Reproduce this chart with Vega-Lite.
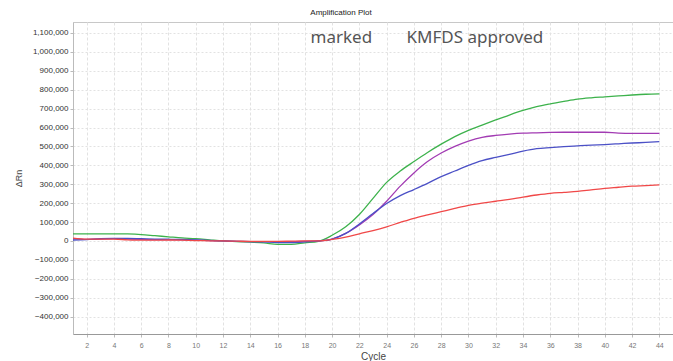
{
  "$schema": "https://vega.github.io/schema/vega-lite/v6.json",
  "width": 600,
  "height": 312,
  "autosize": {"type": "none"},
  "padding": {"left": 73, "top": 22, "right": 0, "bottom": 27},
  "background": "white",
  "config": {"view": {"stroke": "#c8c8c8", "strokeWidth": 1}},
  "title": {"text": "Amplification Plot", "fontSize": 8, "font": "Liberation Sans", "fontWeight": "normal", "color": "#222", "anchor": "middle", "dx": -32, "offset": 5},
  "encoding": {
    "x": {"field": "c", "type": "quantitative",
      "scale": {"domain": [1, 45], "nice": false, "zero": false},
      "axis": {"title": "Cycle", "values": [2,4,6,8,10,12,14,16,18,20,22,24,26,28,30,32,34,36,38,40,42,44],
        "labelOverlap": false,
        "labelFontSize": 7, "labelColor": "#777", "labelFont": "Liberation Sans", "labelPadding": 4,
        "tickSize": 3, "tickColor": "#bbb", "domainColor": "#999",
        "grid": true, "gridColor": "#e2e2e2", "gridDash": [3, 2],
        "titleFont": "Liberation Sans", "titleFontSize": 10, "titleFontWeight": "normal", "titleColor": "#444", "titlePadding": 3}},
    "y": {"field": "v", "type": "quantitative",
      "scale": {"domain": [-492000, 1158000], "nice": false, "zero": false},
      "axis": {"title": "ΔRn", "format": ",d",
        "values": [-400000,-300000,-200000,-100000,0,100000,200000,300000,400000,500000,600000,700000,800000,900000,1000000,1100000],
        "labelOverlap": false,
        "labelFontSize": 8, "labelColor": "#333", "labelFont": "Liberation Sans", "labelPadding": 2,
        "tickSize": 3, "tickColor": "#bbb", "domainColor": "#bbb",
        "grid": true, "gridColor": "#e2e2e2", "gridDash": [2, 2],
        "titleFont": "Liberation Sans", "titleFontSize": 9, "titleFontWeight": "normal", "titleColor": "#444", "titlePadding": 9}}
  },
  "layer": [
    {
      "data": {"values": [
        {"c": 1, "green": 38000, "purple": 12000, "blue": 5000, "red": 15000},
        {"c": 2, "green": 38000, "purple": 8000, "blue": 7000, "red": 10000},
        {"c": 3, "green": 38000, "purple": 10000, "blue": 12000, "red": 10000},
        {"c": 4, "green": 38000, "purple": 12000, "blue": 14000, "red": 10000},
        {"c": 5, "green": 37000, "purple": 10000, "blue": 14000, "red": 6000},
        {"c": 6, "green": 34000, "purple": 8000, "blue": 12000, "red": 4000},
        {"c": 7, "green": 28000, "purple": 7000, "blue": 10000, "red": 4000},
        {"c": 8, "green": 22000, "purple": 7000, "blue": 9000, "red": 5000},
        {"c": 9, "green": 16000, "purple": 6000, "blue": 8000, "red": 4000},
        {"c": 10, "green": 12000, "purple": 4000, "blue": 6000, "red": 2000},
        {"c": 11, "green": 6000, "purple": 2000, "blue": 3000, "red": 1000},
        {"c": 12, "green": 0, "purple": 0, "blue": 0, "red": 0},
        {"c": 13, "green": -3000, "purple": -2000, "blue": -2000, "red": -1000},
        {"c": 14, "green": -6000, "purple": -3000, "blue": -3000, "red": -2000},
        {"c": 15, "green": -10000, "purple": -3000, "blue": -5000, "red": -2000},
        {"c": 16, "green": -18000, "purple": -4000, "blue": -8000, "red": -2000},
        {"c": 17, "green": -18000, "purple": -4000, "blue": -8000, "red": -1000},
        {"c": 18, "green": -10000, "purple": -2000, "blue": -5000, "red": 0},
        {"c": 19, "green": -2000, "purple": 0, "blue": 0, "red": 0},
        {"c": 20, "green": 30000, "purple": 10000, "blue": 10000, "red": 8000},
        {"c": 21, "green": 75000, "purple": 40000, "blue": 40000, "red": 20000},
        {"c": 22, "green": 140000, "purple": 85000, "blue": 90000, "red": 38000},
        {"c": 23, "green": 225000, "purple": 140000, "blue": 145000, "red": 55000},
        {"c": 24, "green": 310000, "purple": 210000, "blue": 198000, "red": 75000},
        {"c": 25, "green": 370000, "purple": 290000, "blue": 240000, "red": 98000},
        {"c": 26, "green": 420000, "purple": 360000, "blue": 272000, "red": 120000},
        {"c": 27, "green": 468000, "purple": 420000, "blue": 305000, "red": 138000},
        {"c": 28, "green": 512000, "purple": 465000, "blue": 340000, "red": 155000},
        {"c": 29, "green": 552000, "purple": 500000, "blue": 370000, "red": 172000},
        {"c": 30, "green": 585000, "purple": 528000, "blue": 400000, "red": 188000},
        {"c": 31, "green": 613000, "purple": 548000, "blue": 425000, "red": 200000},
        {"c": 32, "green": 640000, "purple": 558000, "blue": 442000, "red": 210000},
        {"c": 33, "green": 666000, "purple": 565000, "blue": 458000, "red": 220000},
        {"c": 34, "green": 690000, "purple": 570000, "blue": 475000, "red": 232000},
        {"c": 35, "green": 710000, "purple": 572000, "blue": 488000, "red": 243000},
        {"c": 36, "green": 725000, "purple": 574000, "blue": 494000, "red": 252000},
        {"c": 37, "green": 738000, "purple": 575000, "blue": 499000, "red": 257000},
        {"c": 38, "green": 750000, "purple": 575000, "blue": 503000, "red": 262000},
        {"c": 39, "green": 757000, "purple": 575000, "blue": 507000, "red": 270000},
        {"c": 40, "green": 762000, "purple": 575000, "blue": 510000, "red": 278000},
        {"c": 41, "green": 767000, "purple": 570000, "blue": 514000, "red": 284000},
        {"c": 42, "green": 772000, "purple": 569000, "blue": 518000, "red": 290000},
        {"c": 43, "green": 776000, "purple": 569000, "blue": 521000, "red": 293000},
        {"c": 44, "green": 778000, "purple": 569000, "blue": 525000, "red": 297000}
      ]},
      "transform": [{"fold": ["green", "purple", "blue", "red"], "as": ["series", "v"]}],
      "mark": {"type": "line", "strokeWidth": 1.3, "interpolate": "monotone"},
      "encoding": {
        "color": {"field": "series", "type": "nominal",
          "scale": {"domain": ["green", "purple", "blue", "red"], "range": ["#3db24c", "#a23bb3", "#4b50c6", "#f04848"]},
          "legend": null},
        "order": {"field": "c"}
      }
    },
    {
      "data": {"values": [
        {"label": "marked", "c": 18.42, "v": 1047000},
        {"label": "KMFDS approved", "c": 25.46, "v": 1047000}
      ]},
      "mark": {"type": "text", "align": "left", "baseline": "alphabetic", "font": "Noto Sans", "fontSize": 17, "color": "#555"},
      "encoding": {
        "text": {"field": "label"}
      }
    }
  ]
}
